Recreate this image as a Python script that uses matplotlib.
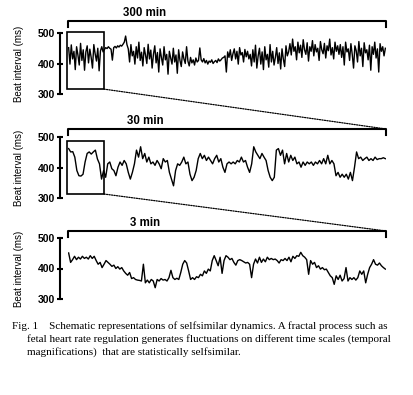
import numpy as np
import matplotlib.pyplot as plt
from matplotlib.patches import Rectangle, ConnectionPatch
from matplotlib.lines import Line2D

plt.rcParams['font.family'] = ['Liberation Sans', 'DejaVu Sans']

# beat interval (ms)
hr_300 = [
    452, 398, 461, 415, 440, 380, 455, 428, 395, 466, 410, 445, 378, 438, 458, 402, 447, 420, 385, 462,
    432, 408, 450, 376, 441, 455, 438,
    446, 452, 449, 455, 450, 447, 411, 452, 456, 451, 458, 454, 460, 457, 463, 470, 490, 462,
    448, 405, 462, 425, 440, 398, 455, 418, 470, 410, 437, 392, 452, 428, 400, 463, 415, 444, 385, 430,
    458, 402, 436, 372, 448, 420, 395, 455, 412, 430, 365, 440, 418, 398, 450, 405, 428, 368, 445, 410,
    390, 438, 415, 400, 455, 408, 392, 420, 402, 412, 395, 418, 405, 410,
    451, 412, 405, 416, 402, 410, 398, 408, 404, 412, 400, 406, 410, 403, 415, 408, 412, 418, 420,
    425, 372, 438, 420, 445, 410, 432, 448, 415, 440, 398, 452, 428, 436, 405, 446, 422, 440, 415,
    430, 392, 445, 405, 460, 385, 425, 450, 398, 438, 380, 455, 412, 430, 388, 462, 405, 440, 395, 420,
    452, 400, 435, 382, 448, 415, 390, 458, 425, 438,
    465, 428, 480, 440, 455, 412, 470, 435, 460, 420, 478, 445, 430, 468, 408, 455, 440, 475, 425, 462,
    438, 450, 410, 472, 445, 432, 466, 418, 458, 442, 480, 428, 452, 415, 470, 440, 458, 430,
    462, 420, 455, 395, 470, 438, 448, 410, 465, 430, 385, 458, 442, 405, 472, 425, 450, 390, 468, 435,
    445, 412, 460, 378, 455, 430, 470, 418, 448, 372, 465, 440, 455, 425, 450,
]
hr_30 = [
    462, 451, 452, 434, 390, 373, 372, 378, 418, 446, 451, 444, 451, 457, 428, 412, 362, 390, 368, 412,
    418, 396, 390, 373, 401, 418, 407, 423, 412, 384, 362, 384, 412, 457, 434, 468, 429, 446, 418, 434,
    412, 418, 407, 423, 412, 396, 429, 418, 423, 384, 362, 340, 390, 412, 407, 418, 434, 412, 418, 378,
    357, 368, 390, 429, 446, 429, 440, 423, 434, 423, 412, 429, 440, 418, 429, 401, 384, 412, 418,
    412, 418, 412, 423, 418, 434, 418, 423, 401, 384, 412, 468, 451, 440, 429, 446, 434, 423, 390, 368,
    357, 368, 457, 462, 440, 457, 412, 446, 418, 440, 423, 434, 412, 418, 401, 418, 407, 418, 412, 418,
    407, 418, 412, 423, 412, 429, 412, 440, 412, 423, 412, 373, 384, 368, 378, 368, 378, 362, 384, 357,
    401, 451, 429, 434, 423, 429, 434, 423, 429, 423, 434, 426, 429, 429, 432, 429,
]
hr_3 = [
    451, 420, 429, 440, 429, 437, 431, 440, 433, 437, 431, 442, 433, 440, 426, 414, 420, 403, 414, 426,
    420, 414, 407, 411, 400, 406, 398, 403, 392, 384, 378, 387, 367, 370, 364, 362, 361, 359, 414, 353,
    362, 353, 364, 359, 337, 364, 359, 367, 362, 364, 359, 370, 394, 370, 364, 368, 364, 387, 414, 426,
    418, 392, 364, 370, 364, 373, 370, 381, 376, 392, 384, 398, 392, 426, 442, 426, 409,
    437, 384, 426, 442, 437, 429, 433, 420, 411, 426, 429, 426, 422, 418, 420, 414, 370, 414, 431,
    418, 437, 420, 431, 422, 437, 429, 433, 429, 431, 426, 418, 429, 426, 433, 426, 437, 422, 440, 433,
    442, 440, 453, 442, 437, 429, 381, 426, 414, 420, 403, 409, 398, 403, 396, 398, 387, 376, 370, 348,
    376, 364, 378, 359, 367, 403, 359, 370, 364, 370, 362, 370, 392, 381, 392, 353, 381, 403, 414, 429,
    414, 411, 418, 409, 403, 398,
]
spans = [300, 30, 3]
span_labels = ['300 min', '30 min', '3 min']
yticks = [300, 400, 500]
caption = [
    'Fig. 1    Schematic representations of selfsimilar dynamics. A fractal process such as',
    'fetal heart rate regulation generates fluctuations on different time scales (temporal',
    'magnifications)  that are statistically selfsimilar.',
]

W, H = 413, 395
fig = plt.figure(figsize=(W / 100, H / 100), dpi=100)

tops = [33, 137, 238]
bracket_px = [21, 129, 231]
series = [hr_300, hr_30, hr_3]
axes = []
for top, br, span, lab, hr in zip(tops, bracket_px, spans, span_labels, series):
    ax = fig.add_axes([68 / W, 1 - (top + 61) / H, 318 / W, 61 / H])
    t = np.linspace(span * 0.002, span * 0.998, len(hr))
    ax.plot(t, hr, color='black', lw=1.0)
    ax.set_xlim(0, span)
    ax.set_ylim(300, 500)
    for s in ['top', 'right', 'bottom']:
        ax.spines[s].set_visible(False)
    ax.spines['left'].set_position(('outward', 5.8))
    ax.spines['left'].set_linewidth(1.5)
    ax.set_xticks([])
    ax.set_yticks(yticks)
    ax.tick_params(axis='y', direction='inout', length=5, width=1.5, pad=1, labelsize=7.5)
    for tl in ax.get_yticklabels():
        tl.set_fontweight('bold')
    ax.set_ylabel('Beat interval (ms)', fontsize=7)
    ax.yaxis.set_label_coords(-44 / 318, 0.5)
    yb = 1 + (top - br) / 61
    ye = yb - 6 / 61
    ax.add_line(Line2D([0, 0, 1, 1], [ye, yb, yb, ye], transform=ax.transAxes,
                       color='black', lw=1.5, clip_on=False))
    ax.text(77 / 318, yb + 2 / 61, lab, transform=ax.transAxes, ha='center', va='bottom',
            fontsize=8.3, fontweight='bold')
    axes.append(ax)

# zoom windows and the dotted lines to the next panel
boxes = [(-0.9, 34, 316, 503), (-0.09, 3.4, 313, 487)]
for i, (x0, x1, y0, y1) in enumerate(boxes):
    ax, nxt = axes[i], axes[i + 1]
    ax.add_patch(Rectangle((x0, y0), x1 - x0, y1 - y0, fill=False, ec='black', lw=1.2,
                           clip_on=False))
    yb = 1 + (tops[i + 1] - bracket_px[i + 1]) / 61
    for xa, xb in [(x0, 0), (x1, 1)]:
        cp = ConnectionPatch((xa, y0), (xb, yb), coordsA='data', coordsB='axes fraction',
                             axesA=ax, axesB=nxt, color='black', lw=0.9, ls=(0, (1, 1)))
        fig.add_artist(cp)

for k, line in enumerate(caption):
    x = 12 if k == 0 else 27
    fig.text(x / W, 1 - (326 + 13 * k) / H, line, fontsize=8.0, va='center',
             family=['Liberation Serif', 'DejaVu Serif'])

fig.savefig('out.png', dpi=100)
